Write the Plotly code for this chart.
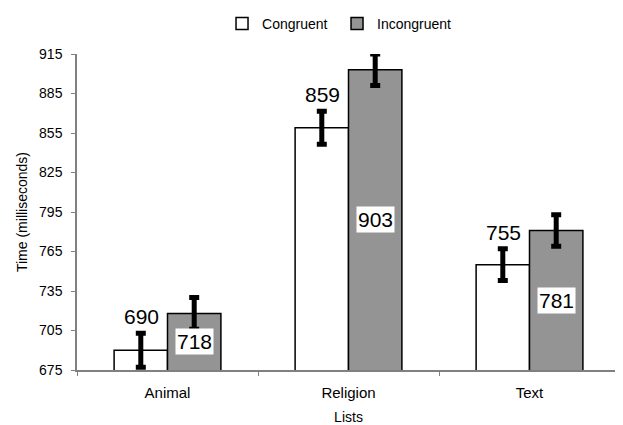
import plotly.graph_objects as go

categories = ["Animal", "Religion", "Text"]
congruent = [690, 859, 755]
incongruent = [718, 903, 781]
congruent_err = [13, 12.5, 12]
incongruent_err = [12, 12, 12]
y_ticks = [675, 705, 735, 765, 795, 825, 855, 885, 915]

font = "Liberation Sans, Arial, sans-serif"

fig = go.Figure()
fig.add_trace(go.Bar(
    name="Congruent", x=categories, y=congruent,
    marker=dict(color="white", line=dict(color="black", width=1.5)),
    error_y=dict(type="data", array=congruent_err, color="black", thickness=5, width=5),
))
fig.add_trace(go.Bar(
    name="Incongruent", x=categories, y=incongruent,
    marker=dict(color="#949494", line=dict(color="black", width=1.5)),
    error_y=dict(type="data", array=incongruent_err, color="black", thickness=5, width=5),
))

# value labels
for c, v, e in zip(categories, congruent, congruent_err):
    fig.add_annotation(x=c, y=v + e, xref="x", yref="y", text=str(v), showarrow=False,
                       xshift=-26, yshift=3, yanchor="bottom",
                       font=dict(family=font, size=21, color="black"))
for c, v in zip(categories, incongruent):
    fig.add_annotation(x=c, y=(v + 675) / 2, xref="x", yref="y", text=str(v), showarrow=False,
                       xshift=27, bgcolor="white", borderpad=1,
                       font=dict(family=font, size=21, color="black"))

# The page body has an 8px default margin, so the figure is sized to fill the
# remaining 615x417 area of the 623x425 window.
fig.update_layout(
    width=615, height=417,
    margin=dict(l=69, r=3, t=46, b=55, autoexpand=False),
    paper_bgcolor="white", plot_bgcolor="white",
    barmode="group", bargap=0.41, bargroupgap=0,
    font=dict(family=font, size=14, color="black"),
    legend=dict(orientation="h", xref="container", x=0.348, xanchor="left",
                yref="container", y=1.0, yanchor="top",
                font=dict(size=14), itemwidth=30, traceorder="normal",
                entrywidth=70, tracegroupgap=0),
    showlegend=True,
)
fig.update_xaxes(
    title=dict(text="Lists", font=dict(size=14), standoff=15),
    tickfont=dict(size=15), ticklabelstandoff=8,
    showline=True, linecolor="#808080", linewidth=1.5,
    ticks="outside", tickson="boundaries", ticklen=4, tickcolor="#808080",
    showgrid=False, zeroline=False,
)
fig.update_yaxes(
    title=dict(text="Time (milliseconds)", font=dict(size=14), standoff=8),
    tickfont=dict(size=14), ticklabelstandoff=6,
    range=[675, 915], tickvals=y_ticks,
    showline=True, linecolor="#808080", linewidth=1.5,
    ticks="outside", ticklen=4, tickcolor="#808080",
    showgrid=False, zeroline=False,
)

fig.write_html("out.html")
